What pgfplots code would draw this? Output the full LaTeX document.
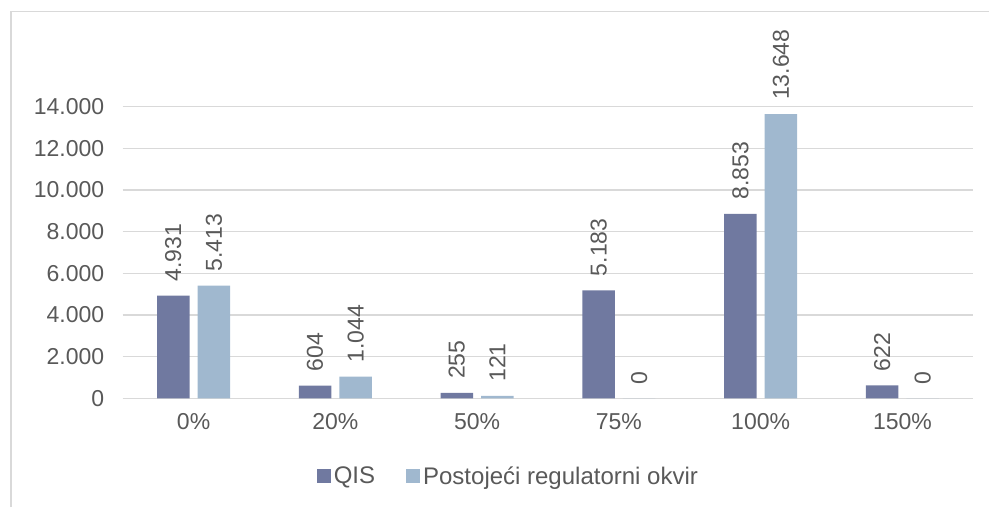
\documentclass[border=0pt]{standalone}
\usepackage{pgfplots}
\pgfplotsset{compat=1.18}
\usepackage{fontspec}
\setmainfont{Liberation Sans}
\definecolor{qis}{HTML}{7079A0}
\definecolor{pro}{HTML}{A0B8CF}
\definecolor{txt}{HTML}{595959}
\definecolor{grd}{HTML}{D9D9D9}
\newcommand{\cf}{\fontsize{23}{27}\selectfont}
\newcommand{\lf}{\fontsize{24}{28}\selectfont}
\begin{document}
\begin{tikzpicture}
\useasboundingbox (0,0) rectangle (989pt,507pt);
\draw[grd, line width=1.2pt] (11pt,0) -- (11pt,495.5pt) -- (989pt,495.5pt);
\begin{axis}[
  at={(122.7pt,108.7pt)}, anchor=south west,
  scale only axis, width=850.6pt, height=291.6pt,
  xmin=-0.5, xmax=5.5, ymin=0, ymax=14000,
  xtick={0,...,5}, xticklabels={0\%,20\%,50\%,75\%,100\%,150\%},
  ytick={0,2000,...,14000},
  scaled y ticks=false,
  /pgf/number format/1000 sep={.},
  /pgf/number format/assume math mode=true,
  ymajorgrids, grid style={grd, line width=1.2pt},
  axis line style={draw=none},
  major tick length=0pt, major tick style={draw=none},
  tick label style={font=\cf, text=txt},
  yticklabel style={xshift=-15pt},
  xticklabel style={yshift=-12pt},
  ybar, bar width=32.5pt, clip=false,
  nodes near coords,
  every node near coord/.append style={rotate=90, anchor=west, inner xsep=14pt, font=\cf, text=txt},
  legend columns=2,
  legend style={draw=none, fill=none, at={(axis description cs:0.454,-0.2665)}, anchor=center, font=\lf, text=txt,
    nodes={inner xsep=3pt},
    /tikz/every even column/.append style={column sep=28pt}},
  legend image code/.code={\fill[#1] (0pt,-7pt) rectangle (14pt,7pt);},
]
\addplot[fill=qis, draw=none, bar shift=-20.3pt] coordinates {(0,4931) (1,604) (2,255) (3,5183) (4,8853) (5,622)};
\addplot[fill=pro, draw=none, bar shift=20.3pt] coordinates {(0,5413) (1,1044) (2,121) (3,0) (4,13648) (5,0)};
\legend{QIS, Postojeći regulatorni okvir}
\end{axis}
\end{tikzpicture}
\end{document}
